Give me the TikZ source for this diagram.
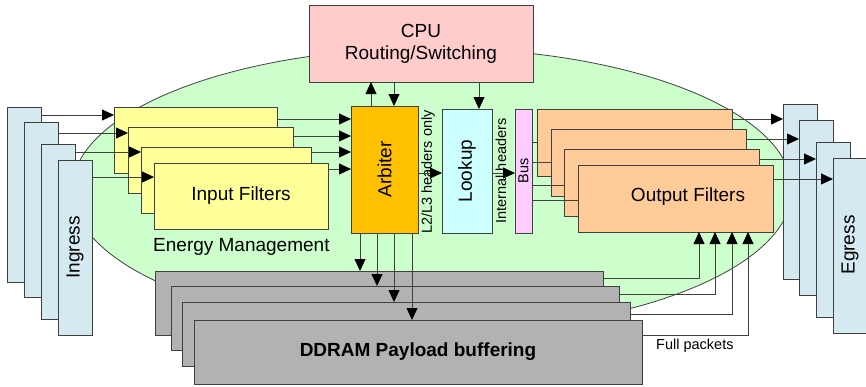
\documentclass[tikz,border=0pt]{standalone}
\usepackage{fontspec}
\setmainfont{Liberation Sans}
\usetikzlibrary{arrows.meta}

\definecolor{ellgreen}{HTML}{CCFFCC}
\definecolor{portblue}{HTML}{D4EAF0}
\definecolor{filtyellow}{HTML}{FFFF99}
\definecolor{arborange}{HTML}{FFC000}
\definecolor{lookcyan}{HTML}{CCFFFF}
\definecolor{buspink}{HTML}{FFCCFF}
\definecolor{outpeach}{HTML}{FFCC99}
\definecolor{cpupink}{HTML}{FFCCCC}
\definecolor{ramgray}{HTML}{B2B2B2}
\definecolor{edge}{HTML}{404040}

\begin{document}
\begin{tikzpicture}[x=1pt, y=-1pt,
		box/.style={draw=edge, line width=0.8pt, anchor=north west, inner sep=0pt, outer sep=0pt},
		wire/.style={draw=edge, line width=0.8pt},
		arr/.style={wire, -{Triangle[length=12pt, width=11pt, black]}},
		big/.style={font=\fontsize{19}{22}\selectfont},
		small/.style={font=\fontsize{14.5}{17}\selectfont}]
			\useasboundingbox (0,0) rectangle (866,386);
			% board
			\draw[edge, line width=0.8pt, fill=ellgreen] (432,190) ellipse [x radius=360pt, y radius=142pt];
			\node[box, fill=cpupink, minimum width=224pt, minimum height=77pt, big, align=center] (cpu) at (309,5) {CPU\\Routing/Switching};
			% ports
			\foreach \x/\y [count=\i] in {7/107, 24/122, 41/144, 58/160}
				\node[box, fill=portblue, minimum width=34pt, minimum height=175pt] (ing\i) at (\x,\y) {};
			\foreach \x/\y [count=\i] in {783/104, 799/120, 816/142, 833/158}
				\node[box, fill=portblue, minimum width=34pt, minimum height=175pt] (eg\i) at (\x,\y) {};
			% filters
			\foreach \x/\y/\w [count=\i] in {114/107/163, 128/127/165, 141/147/170, 154/163/174}
				\node[box, fill=filtyellow, minimum width=\w pt, minimum height=66pt] (inf\i) at (\x,\y) {};
			\foreach \x/\y [count=\i] in {537/109, 551/129, 564/149, 578/165}
				\node[box, fill=outpeach, minimum width=195pt, minimum height=67pt] (of\i) at (\x,\y) {};
			\node[box, fill=arborange, minimum width=67pt, minimum height=127pt] (arb) at (351,106) {};
			\node[box, fill=lookcyan, minimum width=50pt, minimum height=124pt] (look) at (442,109) {};
			\node[box, fill=buspink, minimum width=17pt, minimum height=124pt] (bus) at (515,109) {};
			% payload memory
			\foreach \x/\y [count=\i] in {155/271, 171/286, 182/302, 194/320}
				\node[box, fill=ramgray, minimum width=448pt, minimum height=64pt] (dd\i) at (\x,\y) {};
			% texts
			\node[big, rotate=90] (ingtxt) at (ing4.center) {Ingress};
			\node[big, rotate=90] (egtxt) at (850,245) {Egress};
			\node[big] (inftxt) at (inf4.center) {Input Filters};
			\node[big] (oftxt) at (688,197) {Output Filters};
			\node[big, anchor=west, inner sep=0pt] (energy) at (153,247) {Energy Management};
			\node[big, rotate=90] (arbtxt) at (arb.center) {Arbiter};
			\node[big, rotate=90] (looktxt) at (look.center) {Lookup};
			\node[small, rotate=90, inner sep=0pt] (bustxt) at (bus.center) {Bus};
			\node[small, rotate=90, inner sep=0pt] (l2txt) at (428,172) {L2/L3 headers only};
			\node[small, rotate=90, inner sep=0pt] (inttxt) at (501,171) {Internal headers};
			\node[big, font=\fontsize{19}{22}\selectfont\bfseries] (ddtxt) at (dd4.center) {DDRAM Payload buffering};
			\node[small, anchor=west, inner sep=0pt] (fulltxt) at (656,346) {Full packets};
			% connectors
			\foreach \y [count=\i] in {115, 133, 152, 177}
				\draw[arr] (ing\i.east |- 0,\y) -- (inf\i.west |- 0,\y);
			\foreach \y [count=\i] in {119, 136, 152, 169}
				\draw[arr] (inf\i.east |- 0,\y) -- (arb.west |- 0,\y);
			\draw[arr] (arb.north -| 371,0) -- (cpu.south -| 371,0);
			\draw[arr] (cpu.south -| 394,0) -- (arb.north -| 394,0);
			\draw[arr] (cpu.south -| 479,0) -- (look.north -| 479,0);
			\draw[arr] (arb.east |- 0,173) -- (look.west |- 0,173);
			\draw[arr] (look.east |- 0,173) -- (bus.west |- 0,173);
			\foreach \y [count=\i] in {142, 162, 185, 200}
				\draw[wire] (bus.east |- 0,\y) -- (of\i.west |- 0,\y);
			\foreach \y [count=\i] in {119, 139, 159, 179}
				\draw[arr] (of\i.east |- 0,\y) -- (eg\i.west |- 0,\y);
			\foreach \x [count=\i] in {360, 377, 394, 412}
				\draw[arr] (arb.south -| \x,0) -- (dd\i.north -| \x,0);
			\foreach \y/\x [count=\i] in {278/699, 294/715, 314/732, 335/748}
				\draw[arr] (dd\i.east |- 0,\y) -| (of4.south -| \x,0);
		\end{tikzpicture}
\end{document}
